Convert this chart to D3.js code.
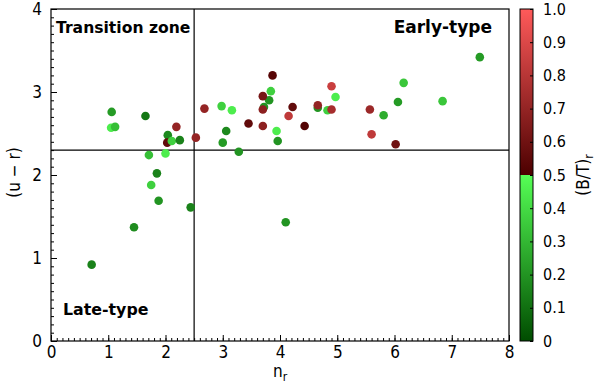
<!DOCTYPE html>
<html>
<head>
<meta charset="utf-8">
<script src="https://cdn.jsdelivr.net/npm/d3@7"></script>
<style>
  body { margin: 0; background: #fff; }
  svg { display: block; }
  .tick text { font-family: "DejaVu Sans Condensed", "DejaVu Sans", sans-serif; font-size: 17px; fill: #000; }
  .cbax .tick text { font-size: 16px; }
  .zone { font-family: "DejaVu Sans", sans-serif; font-weight: bold; }
  .lab { font-family: "DejaVu Sans Condensed", "DejaVu Sans", sans-serif; font-size: 17px; }
</style>
</head>
<body>
<svg id="chart"></svg>
<script>
// sizes
const width = 595;
const height = 386;
const margin = { left: 51, right: 86, top: 9, bottom: 45 };

// galaxies: Sersic index n_r, colour (u - r), bulge fraction (B/T)_r
const nr = [1.06, 1.05, 1.12, 1.65, 2.04, 2.03, 2.11, 2.25, 2.19, 2.53, 2.68, 2.98, 3.16, 3.06, 3.00, 3.28,
  1.71, 2.00, 1.85, 1.75, 1.88, 2.44, 1.45, 0.71,
  3.84, 3.81, 3.87, 4.90, 3.70, 4.97, 4.22, 3.72, 3.70, 4.66, 4.66, 4.83, 4.90, 4.15, 3.45, 3.70, 4.43,
  3.94, 3.96, 5.57, 5.81, 5.60, 7.49, 6.16, 6.06, 6.84, 6.02, 4.10];
const ur = [2.76, 2.57, 2.58, 2.71, 2.48, 2.39, 2.41, 2.42, 2.58, 2.45, 2.80, 2.83, 2.78, 2.53, 2.39, 2.28,
  2.24, 2.26, 2.02, 1.88, 1.69, 1.61, 1.37, 0.92,
  3.01, 2.90, 3.20, 3.07, 2.95, 2.94, 2.82, 2.82, 2.79, 2.81, 2.84, 2.78, 2.79, 2.71, 2.62, 2.59, 2.59,
  2.53, 2.41, 2.79, 2.72, 2.49, 3.42, 3.11, 2.88, 2.89, 2.37, 1.43];
const bt = [0.22, 0.45, 0.32, 0.12, 0.17, 0.56, 0.37, 0.15, 0.70, 0.70, 0.70, 0.37, 0.45, 0.17, 0.22, 0.20,
  0.32, 0.45, 0.15, 0.37, 0.20, 0.15, 0.18, 0.15,
  0.37, 0.20, 0.53, 0.85, 0.62, 0.45, 0.56, 0.20, 0.68, 0.20, 0.70, 0.37, 0.75, 0.82, 0.56, 0.68, 0.52,
  0.45, 0.20, 0.72, 0.27, 0.82, 0.22, 0.34, 0.22, 0.34, 0.60, 0.20];

const xTicks = [0, 1, 2, 3, 4, 5, 6, 7, 8];
const yTicks = [0, 1, 2, 3, 4];
const cbTicks = [0, 0.1, 0.2, 0.3, 0.4, 0.5, 0.6, 0.7, 0.8, 0.9, 1.0];
const nrCut = 2.5;
const urCut = 2.3;

const svg = d3.select('#chart').attr('width', width).attr('height', height);

const x = d3.scaleLinear().domain([0, 8]).range([margin.left, width - margin.right]);
const y = d3.scaleLinear().domain([0, 4]).range([height - margin.bottom, margin.top]);

// green below 0.5, red above, hard break in the middle
const greenC = d3.interpolateRgb('#004c00', '#55ff55');
const redC = d3.interpolateRgb('#4c0000', '#ff5a5a');
const color = (v) => (v < 0.5 ? greenC(v / 0.5) : redC((v - 0.5) / 0.5));

const minor = d3.range(0, 80.5).map((i) => i / 10);
const minorY = d3.range(0, 40.5).map((i) => i / 10);

// minor ticks first, then the labelled ones
svg.append('g')
  .attr('transform', `translate(0,${y(0)})`)
  .call(d3.axisBottom(x).tickValues(minor).tickSize(-3).tickFormat(''))
  .call((g) => g.select('.domain').remove());
svg.append('g')
  .attr('transform', `translate(${x(0)},0)`)
  .call(d3.axisLeft(y).tickValues(minorY).tickSize(-3).tickFormat(''))
  .call((g) => g.select('.domain').remove());

svg.append('g')
  .attr('transform', `translate(0,${y(0)})`)
  .call(d3.axisBottom(x).tickValues(xTicks).tickSize(-6).tickPadding(5).tickFormat(d3.format('d')))
  .call((g) => g.select('.domain').remove());
svg.append('g')
  .attr('transform', `translate(${x(0)},0)`)
  .call(d3.axisLeft(y).tickValues(yTicks).tickSize(-6).tickPadding(9).tickFormat(d3.format('d')))
  .call((g) => g.select('.domain').remove());

svg.selectAll('.tick line').attr('stroke', '#000');

// frame
svg.append('rect')
  .attr('x', x(0)).attr('y', y(4))
  .attr('width', x(8) - x(0)).attr('height', y(0) - y(4))
  .attr('fill', 'none').attr('stroke', '#000').attr('stroke-width', 1.2);

// dividing lines
svg.append('line')
  .attr('x1', x(nrCut)).attr('x2', x(nrCut)).attr('y1', y(4)).attr('y2', y(0))
  .attr('stroke', '#000').attr('stroke-width', 1.2);
svg.append('line')
  .attr('x1', x(0)).attr('x2', x(8)).attr('y1', y(urCut)).attr('y2', y(urCut))
  .attr('stroke', '#000').attr('stroke-width', 1.2);

// points
svg.append('g').selectAll('circle')
  .data(nr.map((d, i) => ({ n: d, c: ur[i], b: bt[i] })))
  .join('circle')
  .attr('cx', (d) => x(d.n))
  .attr('cy', (d) => y(d.c))
  .attr('r', 4.3)
  .attr('fill', (d) => color(d.b));

// zone labels
svg.append('text').attr('class', 'zone').attr('x', 56).attr('y', 33)
  .attr('font-size', 15.6).text('Transition zone');
svg.append('text').attr('class', 'zone').attr('x', 492).attr('y', 33).attr('text-anchor', 'end')
  .attr('font-size', 17).text('Early-type');
svg.append('text').attr('class', 'zone').attr('x', 63).attr('y', 315)
  .attr('font-size', 15.8).text('Late-type');

// axis labels
const xl = svg.append('text').attr('class', 'lab').attr('x', 280).attr('y', 377).attr('text-anchor', 'middle');
xl.append('tspan').text('n');
xl.append('tspan').attr('dy', 4).attr('font-size', 12).text('r');

svg.append('text').attr('class', 'lab')
  .attr('transform', `translate(20,${y(2.03)}) rotate(-90)`)
  .attr('text-anchor', 'middle')
  .text('(u \u2212 r)');

// colour bar
const cbX = 520;
const cbW = 13;
const cb = d3.scaleLinear().domain([0, 1]).range([y(0), y(4)]);
const grad = svg.append('defs').append('linearGradient')
  .attr('id', 'cbgrad').attr('x1', 0).attr('x2', 0).attr('y1', 1).attr('y2', 0);
const stops = [
  [0, greenC(0)], [0.4999, greenC(1)], [0.5, redC(0)], [1, redC(1)],
];
grad.selectAll('stop').data(stops).join('stop')
  .attr('offset', (d) => d[0]).attr('stop-color', (d) => d[1]);
svg.append('rect')
  .attr('x', cbX).attr('y', cb(1)).attr('width', cbW).attr('height', cb(0) - cb(1))
  .attr('fill', 'url(#cbgrad)').attr('stroke', '#000').attr('stroke-width', 1);

svg.append('g')
  .attr('class', 'cbax')
  .attr('transform', `translate(${cbX + cbW},0)`)
  .call(d3.axisRight(cb).tickValues(cbTicks).tickSize(-3).tickPadding(10)
    .tickFormat((d) => (d === 0 ? '0' : d.toFixed(1))))
  .call((g) => g.select('.domain').remove())
  .call((g) => g.selectAll('.tick line').attr('stroke', '#000'));

const cl = svg.append('text').attr('class', 'lab')
  .attr('transform', `translate(589,${cb(0.5)}) rotate(-90)`)
  .attr('text-anchor', 'middle');
cl.append('tspan').text('(B/T)');
cl.append('tspan').attr('dy', 4).attr('font-size', 12).text('r');
</script>
</body>
</html>
